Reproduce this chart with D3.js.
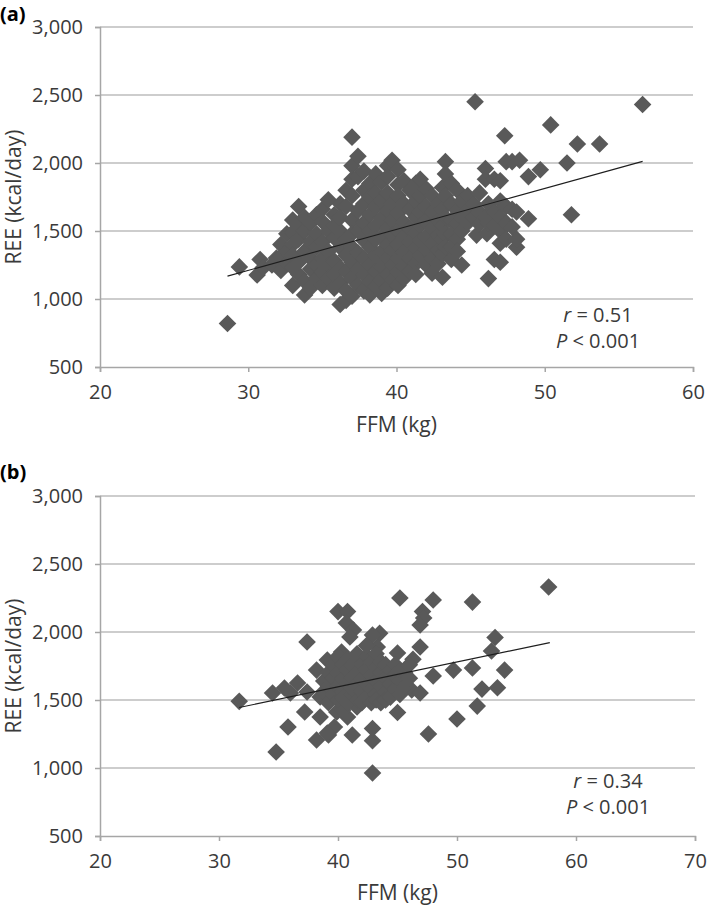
<!DOCTYPE html>
<html><head><meta charset="utf-8">
<script src="https://cdn.jsdelivr.net/npm/d3@7"></script>
<style>
body{margin:0;background:#fff}
svg{display:block}
text{font-family:"Open Sans",sans-serif}
</style>
</head><body>
<svg id="c" width="709" height="906"></svg>
<script>
// ---- data ----
const yTicks = [500, 1000, 1500, 2000, 2500, 3000];
const xTicksA = [20, 30, 40, 50, 60];
const xTicksB = [20, 30, 40, 50, 60, 70];
const panelLabels = ["(a)", "(b)"];
const xTitle = "FFM (kg)";
const yTitle = "REE (kcal/day)";
const rValues = ["0.51", "0.34"];
const pValues = ["0.001", "0.001"];

// panel (a): [FFM, REE]
const pointsA = [
  [28.6,820],[29.4,1236],[30.6,1176],[30.8,1290],
  [31.0,1230],[31.6,1250],[31.9,1301],
  [32.2,1400],[32.2,1210],[32.2,1310],
  [32.6,1480],[32.6,1260],[32.6,1350],
  [33.0,1580],[33.0,1490],[33.0,1400],[33.0,1320],[33.0,1230],[33.0,1100],
  [33.4,1680],[33.4,1440],[33.4,1180],[33.4,1270],[33.4,1540],
  [33.8,1030],[33.8,1350],[33.8,1500],[33.8,1130],[33.8,1600],
  [34.2,1220],[34.2,1420],[34.2,1560],[34.2,1300],[34.2,1080],
  [34.6,1150],[34.6,1480],[34.6,1380],[34.6,1250],[34.6,1620],
  [35.0,1570],[35.0,1420],[35.0,1300],[35.0,1200],[35.0,1100],[35.0,1660],
  [35.4,1730],[35.4,1500],[35.4,1350],[35.4,1250],[35.4,1150],
  [35.8,1620],[35.8,1450],[35.8,1280],[35.8,1180],[35.8,1080],[35.8,1540],
  [36.2,960],[36.2,1700],[36.2,1380],[36.2,1230],[36.2,1120],[36.2,1500],[36.2,1600],
  [36.6,990],[36.6,1800],[36.6,1680],[36.6,1440],[36.6,1320],[36.6,1200],[36.6,1060],
  [37.0,2190],[37.0,1980],[37.0,1880],[37.0,1760],[37.0,1580],[37.0,1480],[37.0,1380],[37.0,1270],[37.0,1150],[37.0,1020],
  [37.4,2050],[37.4,1900],[37.4,1650],[37.4,1500],[37.4,1340],[37.4,1220],[37.4,1100],
  [37.8,1940],[37.8,1800],[37.8,1700],[37.8,1560],[37.8,1430],[37.8,1300],[37.8,1180],[37.8,1060],
  [38.2,1850],[38.2,1620],[38.2,1500],[38.2,1380],[38.2,1250],[38.2,1130],[38.2,1030],[38.2,1750],
  [38.6,1920],[38.6,1780],[38.6,1680],[38.6,1540],[38.6,1440],[38.6,1320],[38.6,1200],[38.6,1090],
  [39.0,1860],[39.0,1720],[39.0,1600],[39.0,1460],[39.0,1350],[39.0,1240],[39.0,1140],[39.0,1040],
  [39.4,1980],[39.4,1900],[39.4,1780],[39.4,1650],[39.4,1520],[39.4,1400],[39.4,1300],[39.4,1180],[39.4,1080],
  [39.7,2020],[39.7,1700],[39.7,1580],[39.7,1470],[39.7,1360],[39.7,1250],[39.7,1140],
  [40.1,1950],[40.1,1840],[40.1,1760],[40.1,1630],[40.1,1500],[40.1,1400],[40.1,1300],[40.1,1200],[40.1,1100],
  [40.5,1870],[40.5,1700],[40.5,1560],[40.5,1450],[40.5,1340],[40.5,1240],[40.5,1150],
  [40.9,1800],[40.9,1660],[40.9,1520],[40.9,1420],[40.9,1300],[40.9,1200],
  [41.3,1850],[41.3,1720],[41.3,1600],[41.3,1480],[41.3,1370],[41.3,1260],[41.3,1180],
  [41.6,1880],[41.6,1760],[41.6,1640],[41.6,1540],[41.6,1430],[41.6,1320],
  [42.0,1810],[42.0,1680],[42.0,1570],[42.0,1460],[42.0,1360],[42.0,1250],
  [42.4,1760],[42.4,1640],[42.4,1520],[42.4,1410],[42.4,1300],[42.4,1190],
  [42.8,1700],[42.8,1580],[42.8,1470],[42.8,1360],[42.8,1260],
  [43.1,1160],[43.1,1820],[43.1,1660],[43.1,1540],[43.1,1440],[43.1,1330],
  [43.3,2010],[43.3,1920],[43.3,1760],[43.3,1600],[43.3,1480],[43.3,1380],
  [43.7,1850],[43.7,1700],[43.7,1580],[43.7,1480],[43.7,1380],[43.7,1290],
  [44.1,1800],[44.1,1650],[44.1,1550],[44.1,1440],[44.1,1350],
  [44.4,1250],[44.4,1720],[44.4,1600],[44.4,1500],
  [44.8,1760],[44.8,1660],[44.8,1560],
  [45.2,1700],[45.2,1600],[45.4,1470],
  [45.3,2450],
  [45.6,1780],[45.6,1640],[45.6,1550],
  [46.0,1600],[46.0,1960],[46.0,1880],[46.1,1480],
  [46.2,1150],[46.2,1700],[46.2,1560],
  [46.6,1290],[46.6,1880],[46.6,1640],[46.6,1540],
  [47.0,1870],[47.0,1720],[47.0,1600],[47.0,1500],[47.0,1410],[47.0,1270],
  [47.4,1680],[47.4,1560],[47.4,1440],[47.4,2010],[47.3,2200],
  [47.8,1660],[47.8,1530],[47.8,2010],
  [48.1,1640],[48.1,1380],[48.1,1440],[48.3,2020],
  [48.9,1590],[48.9,1900],[49.7,1950],[50.4,2280],[51.5,2000],[51.8,1620],
  [52.2,2140],[53.7,2140],[56.6,2430]
];

// panel (b): [FFM, REE]
const pointsB = [
  [31.7,1490],[34.8,1118],[35.8,1301],[37.4,1926],[37.2,1412],[38.5,1375],
  [38.2,1206],[39.2,1243],[40.0,2150],[40.8,2150],[40.7,2066],[41.3,2015],
  [41.2,1243],[42.9,963],[42.9,1200],[42.9,1290],
  [45.2,2250],[48.0,2235],[51.3,2220],[57.7,2331],
  [47.1,2150],[47.2,2103],[46.9,2051],[53.2,1960],[52.9,1860],[54.0,1720],
  [51.3,1735],[49.7,1720],[52.1,1580],[53.4,1590],[51.7,1455],[50.0,1360],
  [47.6,1250],[45.0,1408],[43.5,1990],[43.3,1890],[48.0,1676],[46.9,1890],
  [46.3,1800],[45.0,1846],[46.2,1574],[45.5,1595],[46.9,1551],
  [34.5,1551],[35.5,1588],[36.0,1551],[36.6,1625],[37.4,1559],[38.5,1522],
  [38.2,1720],[39.1,1794],[40.3,1853],[41.0,1963],[42.9,1978],
  [39.9,1412],[40.8,1375],[39.7,1301],[39.1,1257],[40.4,1426],[41.6,1448],
  [38.8,1560],[38.8,1640],
  [39.2,1480],[39.2,1600],[39.2,1700],
  [39.6,1540],[39.6,1660],[39.6,1760],
  [40.0,1500],[40.0,1600],[40.0,1700],[40.0,1820],
  [40.4,1560],[40.4,1660],[40.4,1760],[40.4,1520],
  [40.8,1480],[40.8,1620],[40.8,1720],[40.8,1800],
  [41.2,1540],[41.2,1660],[41.2,1760],[41.2,1580],
  [41.6,1500],[41.6,1620],[41.6,1700],[41.6,1840],
  [42.0,1560],[42.0,1660],[42.0,1760],[42.0,1480],
  [42.4,1520],[42.4,1620],[42.4,1720],[42.4,1820],[42.4,1900],
  [42.8,1480],[42.8,1580],[42.8,1680],[42.8,1780],
  [43.2,1540],[43.2,1640],[43.2,1740],[43.2,1840],[43.2,1500],
  [43.6,1600],[43.6,1700],[43.6,1780],[43.6,1480],
  [44.0,1560],[44.0,1660],[44.0,1760],[44.0,1500],
  [44.4,1620],[44.4,1720],[44.4,1520],
  [44.8,1580],[44.8,1680],[44.8,1760],
  [45.2,1640],[45.2,1540],[45.2,1720],
  [45.6,1700],[45.6,1600],
  [46.0,1660],[46.0,1760]
];

const trendA = [[28.6,1168],[56.6,2012]];
const trendB = [[31.7,1445],[57.8,1922]];

// ---- drawing ----
const svg = d3.select("#c");
const fmt = d3.format(",");
const textColor = "#3a3a3a";

function drawPanel(cfg){
  const g = svg.append("g");
  const x = d3.scaleLinear().domain(cfg.xDomain).range(cfg.xRange);
  const y = d3.scaleLinear().domain([500,3000]).range(cfg.yRange);

  // gridlines
  g.append("g").selectAll("line").data(yTicks.filter(t=>t>500)).join("line")
    .attr("x1",x.range()[0]).attr("x2",x.range()[1])
    .attr("y1",d=>y(d)).attr("y2",d=>y(d))
    .attr("stroke","#bdbdbd").attr("stroke-width",1.5);

  // y axis
  const ya = g.append("g").attr("transform",`translate(${x.range()[0]},0)`)
    .call(d3.axisLeft(y).tickValues(yTicks).tickFormat(fmt).tickSize(5).tickPadding(12));
  // x axis
  const xa = g.append("g").attr("transform",`translate(0,${y.range()[0]})`)
    .call(d3.axisBottom(x).tickValues(cfg.xTicks).tickFormat(d3.format("d")).tickSize(5).tickPadding(13));
  [ya,xa].forEach(a=>{
    a.selectAll("path,line").attr("stroke","#a6a6a6").attr("stroke-width",1.5);
    a.selectAll("text").attr("fill",textColor).style("font-size","20px");
  });

  // points
  const h = 8.8;
  g.append("g").selectAll("path").data(cfg.points).join("path")
    .attr("d",`M0,${-h}L${h},0L0,${h}L${-h},0Z`)
    .attr("transform",d=>`translate(${x(d[0])},${y(d[1])})`)
    .attr("fill","#595959");

  // trend line
  g.append("line")
    .attr("x1",x(cfg.trend[0][0])).attr("y1",y(cfg.trend[0][1]))
    .attr("x2",x(cfg.trend[1][0])).attr("y2",y(cfg.trend[1][1]))
    .attr("stroke","#1e1e1e").attr("stroke-width",1.1);

  // panel label
  g.append("text").attr("x",0).attr("y",cfg.labelY).text(cfg.label)
    .attr("fill","#000").style("font-weight","700").style("font-size","20px");

  // axis titles
  g.append("text").attr("x",(x.range()[0]+x.range()[1])/2).attr("y",cfg.xTitleY)
    .attr("text-anchor","middle").attr("fill",textColor).style("font-size","21px").text(xTitle);
  const yc = (y.range()[0]+y.range()[1])/2;
  g.append("text").attr("transform",`translate(21,${yc}) rotate(-90)`)
    .attr("text-anchor","middle").attr("fill",textColor).style("font-size","21px").text(yTitle);

  // stats
  const s1 = g.append("text").attr("x",cfg.statX).attr("y",cfg.statY).attr("text-anchor","middle")
    .attr("fill",textColor).style("font-size","20px");
  s1.append("tspan").style("font-style","italic").text("r");
  s1.append("tspan").text(" = " + cfg.r);
  const s2 = g.append("text").attr("x",cfg.statX).attr("y",cfg.statY+26).attr("text-anchor","middle")
    .attr("fill",textColor).style("font-size","20px");
  s2.append("tspan").style("font-style","italic").text("P");
  s2.append("tspan").text(" < " + cfg.p);
}

drawPanel({label:panelLabels[0], labelY:21, points:pointsA, trend:trendA,
  xDomain:[20,60], xRange:[100,693], yRange:[367,27], xTicks:xTicksA,
  xTitleY:432, statX:598, statY:322, r:rValues[0], p:pValues[0]});
drawPanel({label:panelLabels[1], labelY:479, points:pointsB, trend:trendB,
  xDomain:[20,70], xRange:[100,695], yRange:[836,496], xTicks:xTicksB,
  xTitleY:900, statX:608, statY:788, r:rValues[1], p:pValues[1]});
</script>
</body></html>
